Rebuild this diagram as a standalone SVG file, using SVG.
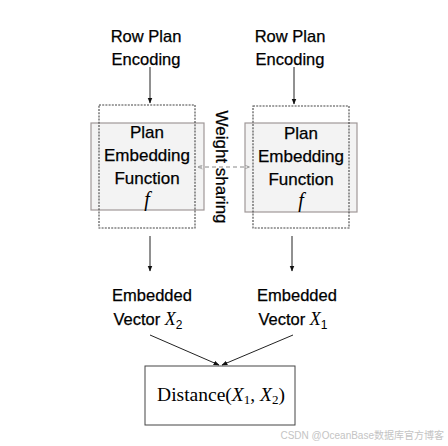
<svg xmlns="http://www.w3.org/2000/svg" width="448" height="446" viewBox="0 0 448 446">
<defs>
<style>
.t{font-family:"Liberation Sans",Arial,sans-serif;font-size:16.5px;fill:#000;stroke:#000;stroke-width:0.25;text-anchor:middle}
.b{font-family:"Liberation Sans",Arial,sans-serif;font-size:17px;fill:#000;stroke:#000;stroke-width:0.25;text-anchor:middle}
.m{font-family:"Liberation Serif","Times New Roman",serif;font-style:italic}
.solid{fill:#f3f3f3;stroke:#a09898;stroke-width:1.2}
.dash{fill:none;stroke:#444;stroke-width:1.1;stroke-dasharray:2,1.2}
.ln{stroke:#222;stroke-width:1;fill:none}
</style>
<marker id="ah" viewBox="0 0 10 10" refX="9" refY="5" markerWidth="6" markerHeight="6" orient="auto"><path d="M0,1 L10,5 L0,9 z" fill="#111"/></marker>
<marker id="gh" viewBox="0 0 10 10" refX="9" refY="5" markerWidth="5" markerHeight="5" orient="auto-start-reverse"><path d="M0,1 L10,5 L0,9" fill="none" stroke="#999" stroke-width="1.5"/></marker>
</defs>
<rect width="448" height="446" fill="#fff"/>

<g id="input-left"><text class="t" x="146" y="42">Row Plan</text><text class="t" x="146" y="65">Encoding</text></g>
<g id="input-right"><text class="t" x="290" y="42">Row Plan</text><text class="t" x="290" y="65">Encoding</text></g>

<g id="embed-left">
<rect class="solid" x="91" y="123" width="113" height="87"/>
<rect class="dash" x="99" y="105" width="96" height="123"/>
<text class="b" x="147" y="138">Plan</text>
<text class="b" x="147" y="161">Embedding</text>
<text class="b" x="147" y="184">Function</text>
<text class="m" x="147" y="206" font-size="20" text-anchor="middle" fill="#000">f</text>
</g>
<g id="embed-right">
<rect class="solid" x="245" y="123" width="112" height="89"/>
<rect class="dash" x="253" y="106" width="96" height="122"/>
<text class="b" x="301" y="139">Plan</text>
<text class="b" x="301" y="162">Embedding</text>
<text class="b" x="301" y="185">Function</text>
<text class="m" x="301" y="207" font-size="20" text-anchor="middle" fill="#000">f</text>
</g>

<g id="weight-sharing"><text class="b" transform="translate(216,167) rotate(90)" x="0" y="0">Weight sharing</text></g>

<g id="out-left"><text class="t" x="152" y="301">Embedded</text><text class="t" x="148" y="325">Vector <tspan class="m" font-size="18" stroke-width="0">X</tspan><tspan font-size="12" dy="4" stroke-width="0">2</tspan></text></g>
<g id="out-right"><text class="t" x="297" y="301">Embedded</text><text class="t" x="293" y="325">Vector <tspan class="m" font-size="18" stroke-width="0">X</tspan><tspan font-size="12" dy="4" stroke-width="0">1</tspan></text></g>

<g id="distance">
<rect x="145" y="366" width="150" height="59" fill="#fff" stroke="#444" stroke-width="1"/>
<text x="221" y="401" font-family="Liberation Serif,'Times New Roman',serif" font-size="19.5" text-anchor="middle" fill="#000">Distance(<tspan class="m">X</tspan><tspan font-size="13" dy="3">1</tspan><tspan dy="-3">, </tspan><tspan class="m">X</tspan><tspan font-size="13" dy="3">2</tspan><tspan dy="-3">)</tspan></text>
</g>

<g id="connectors">
<line class="ln" x1="150" y1="67" x2="150" y2="103" marker-end="url(#ah)"/>
<line class="ln" x1="294" y1="67" x2="294" y2="104" marker-end="url(#ah)"/>
<line class="ln" x1="150" y1="236" x2="150" y2="271" marker-end="url(#ah)"/>
<line class="ln" x1="292" y1="236" x2="292" y2="271" marker-end="url(#ah)"/>
<line class="ln" x1="150" y1="335" x2="219" y2="365" marker-end="url(#ah)"/>
<line class="ln" x1="293" y1="335" x2="222" y2="365" marker-end="url(#ah)"/>
<line x1="198" y1="167" x2="249" y2="167" stroke="#888" stroke-width="1" stroke-dasharray="4,3" marker-start="url(#gh)" marker-end="url(#gh)"/>
</g>

<text x="444" y="439" font-family="'Liberation Sans','Noto Sans CJK SC',sans-serif" font-size="10" fill="#c4c4c4" text-anchor="end">CSDN @OceanBase数据库官方博客</text>
</svg>
